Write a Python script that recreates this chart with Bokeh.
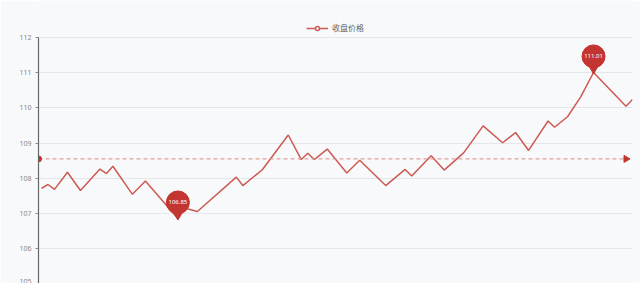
import numpy as np
from bokeh.plotting import figure
from bokeh.models import ColumnDataSource, Legend, LegendItem, Label, FixedTicker, Range1d
from bokeh.core.properties import value
from bokeh.embed import file_html
from bokeh.resources import INLINE

# ---- data ----
day_index = [0, 1, 2, 4, 6, 9, 10, 11, 14, 16, 21, 22, 24, 30, 31, 34, 38, 40, 41, 42,
             44, 47, 49, 53, 56, 57, 60, 62, 65, 68, 71, 73, 75, 78, 79, 81, 83, 85, 90, 91]
price = [107.71, 107.82, 107.68, 108.17, 107.65, 108.26, 108.13, 108.34, 107.54, 107.92,
         106.85, 107.15, 107.05, 108.03, 107.79, 108.24, 109.23, 108.53, 108.71, 108.53,
         108.83, 108.15, 108.51, 107.79, 108.25, 108.06, 108.64, 108.23, 108.72, 109.49,
         109.01, 109.30, 108.79, 109.63, 109.45, 109.75, 110.31, 111.01, 110.05, 110.24]
avg_value = 108.55
y_ticks = [105, 106, 107, 108, 109, 110, 111, 112]
series_name = "收盘价格"

BG = "#f8f9fb"
RED = "#c23531"
LINE = "#cc5a52"
FONT = "Noto Sans"

px_per_unit = 244 / 7.0
y_top = y_ticks[-1] + 37 / px_per_unit

p = figure(width=640, height=283, output_backend="svg", toolbar_location=None,
           x_range=Range1d(-0.46, 91.0), y_range=Range1d(y_ticks[0], y_top),
           min_border_left=38, min_border_right=8, min_border_top=0, min_border_bottom=0)
p.background_fill_color = BG
p.border_fill_color = BG
p.outline_line_color = None

p.xaxis.visible = False
p.xgrid.visible = False
p.ygrid.grid_line_color = "#e4e6ea"
p.ygrid.grid_line_width = 1
p.yaxis.ticker = FixedTicker(ticks=y_ticks)
p.yaxis.bounds = (y_ticks[0], y_ticks[-1])
p.yaxis.axis_line_color = "#666666"
p.yaxis.axis_line_width = 1.2
p.yaxis.major_tick_line_color = "#888888"
p.yaxis.major_tick_out = 3
p.yaxis.major_tick_in = 0
p.yaxis.minor_tick_line_color = None
p.yaxis.major_label_text_font = FONT
p.yaxis.major_label_text_font_size = "7px"
p.yaxis.major_label_text_color = "#888888"
p.yaxis.major_label_standoff = 4

src = ColumnDataSource(dict(x=day_index, y=price))
ln = p.line("x", "y", source=src, line_color=LINE, line_width=1.5)

# average mark line
x0, x1 = p.x_range.start, 90.0
p.line([x0, x1], [avg_value, avg_value], line_color="#dd8a85", line_width=1, line_dash="4 3")
p.scatter([x0], [avg_value], marker="circle", size=6, fill_color=RED, line_color=RED)
p.scatter([x1], [avg_value], marker="triangle", angle=-np.pi / 2, size=7,
          fill_color=RED, line_color=RED)
p.add_layout(Label(x=x1, y=avg_value, x_offset=7, y_offset=-4, text=f"{avg_value:.2f}",
                   text_font=FONT, text_font_size="8px", text_color=RED))

# min / max pins
i_min = int(np.argmin(price)); i_max = int(np.argmax(price))
for i in (i_min, i_max):
    xv, yv = day_index[i], price[i]
    cy = yv + 16 / px_per_unit
    p.scatter([xv], [yv + 6 / px_per_unit], marker="inverted_triangle", size=13,
              fill_color=RED, line_color=RED)
    p.scatter([xv], [cy], marker="circle", size=23, fill_color=RED, line_color=RED)
    p.text([xv], [cy], text=[f"{yv:.2f}"], text_align="center", text_baseline="middle",
           text_font=value(FONT), text_font_size="6px", text_color="white")

# legend
legend_glyph = p.scatter([-10], [100], marker="circle", size=7, fill_color="white",
                         line_color=LINE, line_width=1.5)
legend = Legend(items=[LegendItem(label=series_name, renderers=[ln, legend_glyph])],
                location="top_center", orientation="horizontal",
                background_fill_alpha=0, border_line_color=None,
                label_text_font="Noto Sans CJK SC", label_text_font_size="8px",
                label_text_color="#666666", glyph_width=22, glyph_height=10,
                padding=0, margin=22, label_standoff=4, label_height=10)
p.add_layout(legend)

open("out.html", "w").write(file_html(p, INLINE))
